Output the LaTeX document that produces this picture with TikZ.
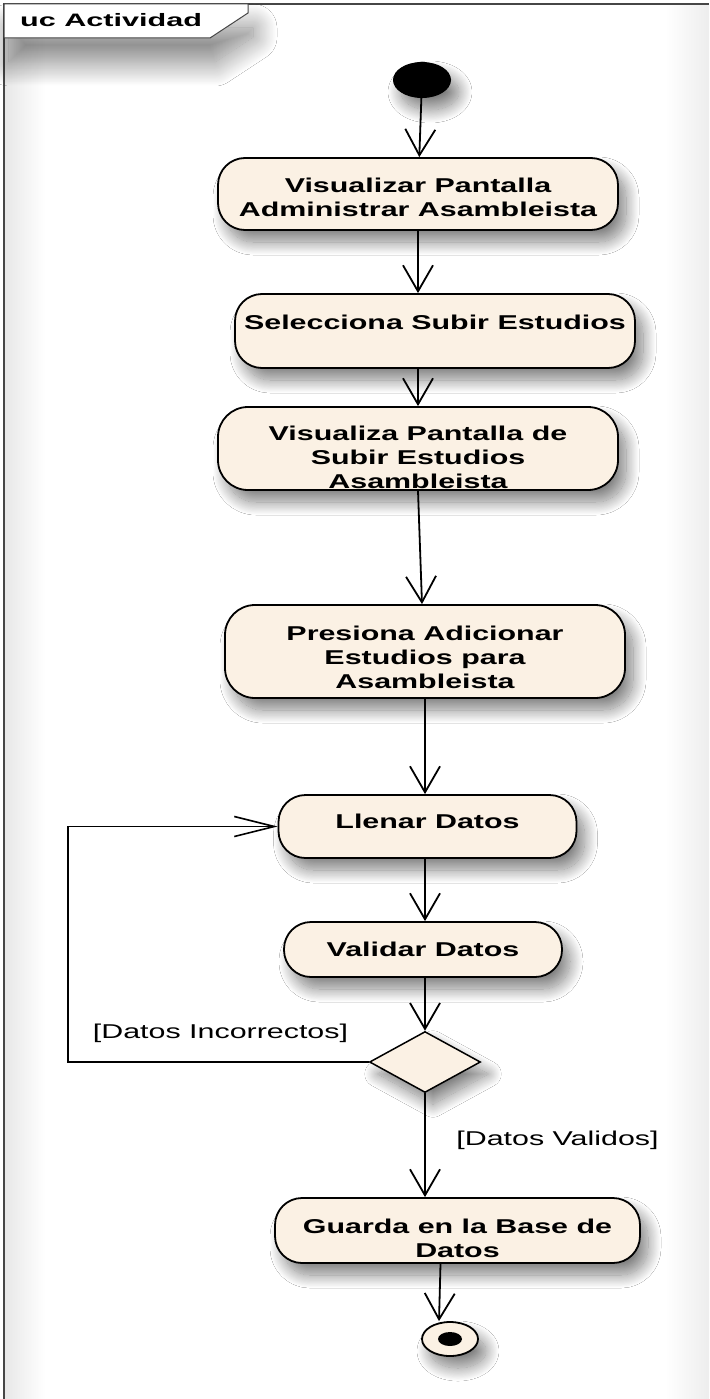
\documentclass[tikz,border=0pt]{standalone}
\usepackage{fontspec}
\setmainfont{Liberation Sans}
\usepackage{graphicx}
\usetikzlibrary{arrows.meta,shapes.geometric,shadows.blur}

\definecolor{actfill}{RGB}{251,241,228}
\definecolor{framegray}{RGB}{70,70,70}

% widened text, as the diagram tool renders it
\newcommand{\wide}[1]{\scalebox{1.52}[1]{#1}}
% action text: optional vertical nudge, lines separated by \\
\newcommand{\acttext}[2][0pt]{\raisebox{#1}[\height][\depth]{\wide{\begin{tabular}{@{}c@{}}#2\end{tabular}}}}

\tikzset{
  softshadow/.style={blur shadow={shadow xshift=8pt, shadow yshift=-12pt,
    shadow blur radius=13pt, shadow blur steps=24, shadow opacity=50}},
  act/.style={draw=black, line width=1.8pt, fill=actfill, rounded corners=27pt,
    inner sep=0pt, font=\fontsize{20}{24}\selectfont\bfseries, softshadow},
  actbig/.style={act, rounded corners=30pt},
  arr/.style={-{Straight Barb[length=26pt,width=30pt]}, line width=1.8pt},
  arrh/.style={-{Straight Barb[length=40pt,width=20pt]}, line width=1.6pt},
  guard/.style={fill=white, inner sep=1pt, font=\fontsize{20}{24}\selectfont},
}

\begin{document}
\begin{tikzpicture}[x=1pt, y=-1pt]
\useasboundingbox (0,0) rectangle (709,1399);
\fill[white] (0,0) rectangle (709,1399);

% soft edge shading inside the frame
\shade[left color=black!9, right color=white] (5,38) rectangle (45,1399);
\shade[left color=white, right color=black!7] (665,5) rectangle (709,1399);

% diagram frame
\draw[framegray, line width=1.3pt] (4,1399) -- (4,4) -- (709,4);
\draw[framegray, line width=1pt, fill=white,
  blur shadow={shadow xshift=5pt, shadow yshift=-24pt, shadow blur radius=24pt,
    shadow blur steps=30, shadow opacity=50}]
  (4,4) -- (248,4) -- (248,13) -- (210,38) -- (4,38) -- cycle;
\node[anchor=base west, inner sep=0pt, font=\fontsize{18}{20}\selectfont\bfseries]
  (title) at (20,27) {\scalebox{1.7}[1]{uc Actividad}};

% initial node
\node[ellipse, fill=black, minimum width=58pt, minimum height=36pt, inner sep=0pt, softshadow]
  (start) at (422,80) {};

% actions
\node[act, minimum width=400pt, minimum height=72pt] (b1) at (418,194)
  {\acttext[-5.9pt]{Visualizar Pantalla\\Administrar Asambleista}};
\node[act, minimum width=400pt, minimum height=74pt] (b2) at (435,331)
  {\acttext[6.6pt]{Selecciona Subir Estudios}};
\node[actbig, minimum width=400pt, minimum height=83pt] (b3) at (418,448.5)
  {\acttext[-11.4pt]{Visualiza Pantalla de\\Subir Estudios\\Asambleista}};
\node[actbig, minimum width=400pt, minimum height=93pt] (b4) at (425,651.5)
  {\acttext[-8.4pt]{Presiona Adicionar\\Estudios para\\Asambleista}};
\node[act, minimum width=298pt, minimum height=63pt] (b5) at (427.5,826.5)
  {\acttext[2.6pt]{Llenar Datos}};
\node[act, minimum width=278pt, minimum height=55pt] (b6) at (423,949.5)
  {\acttext[-2.4pt]{Validar Datos}};

% decision
\node[diamond, draw=black, line width=1.5pt, fill=actfill, minimum width=111pt,
  minimum height=61pt, inner sep=0pt, softshadow]
  (dec) at (425,1062) {};

\node[act, minimum width=365pt, minimum height=65pt] (b7) at (457.5,1230.5)
  {\acttext[-10.4pt]{Guarda en la Base de\\Datos}};

% final node
\node[ellipse, draw=black, line width=1.8pt, fill=actfill, minimum width=56pt,
  minimum height=34pt, inner sep=0pt, softshadow]
  (final) at (450,1339) {};
\node[ellipse, fill=black, minimum width=24pt, minimum height=14pt, inner sep=0pt]
  (finaldot) at (final.center) {};

% guards
\node[guard] (lincorr) at (220.5,1033.5) {\wide{[Datos Incorrectos]}};
\node[guard] (lvalid) at (557.5,1140) {\wide{[Datos Validos]}};

% flows
\coordinate (spine) at (425,0);
\coordinate (loopx) at (68,900);
\draw[arr] (start) -- (b1);
\draw[arr] (b1.south) -- (b1.south |- b2.north);
\draw[arr] (b3.north |- b2.south) -- (b3.north);
\draw[arr] (b3.south) -- ([xshift=-3pt]b4.north);
\draw[arr] (b4.south) -- (b4.south |- b5.north);
\draw[arr] (b5.south -| spine) -- (b6.north -| spine);
\draw[arr] (b6.south -| spine) -- (dec.north);
\draw[arr] (dec.south) -- (dec.south |- b7.north);
\draw[arr] ([xshift=-17pt]b7.south) -- ([xshift=-11pt]final.north);
\draw[arrh] (dec.west) -| (loopx) |- (b5.west);
\end{tikzpicture}
\end{document}
